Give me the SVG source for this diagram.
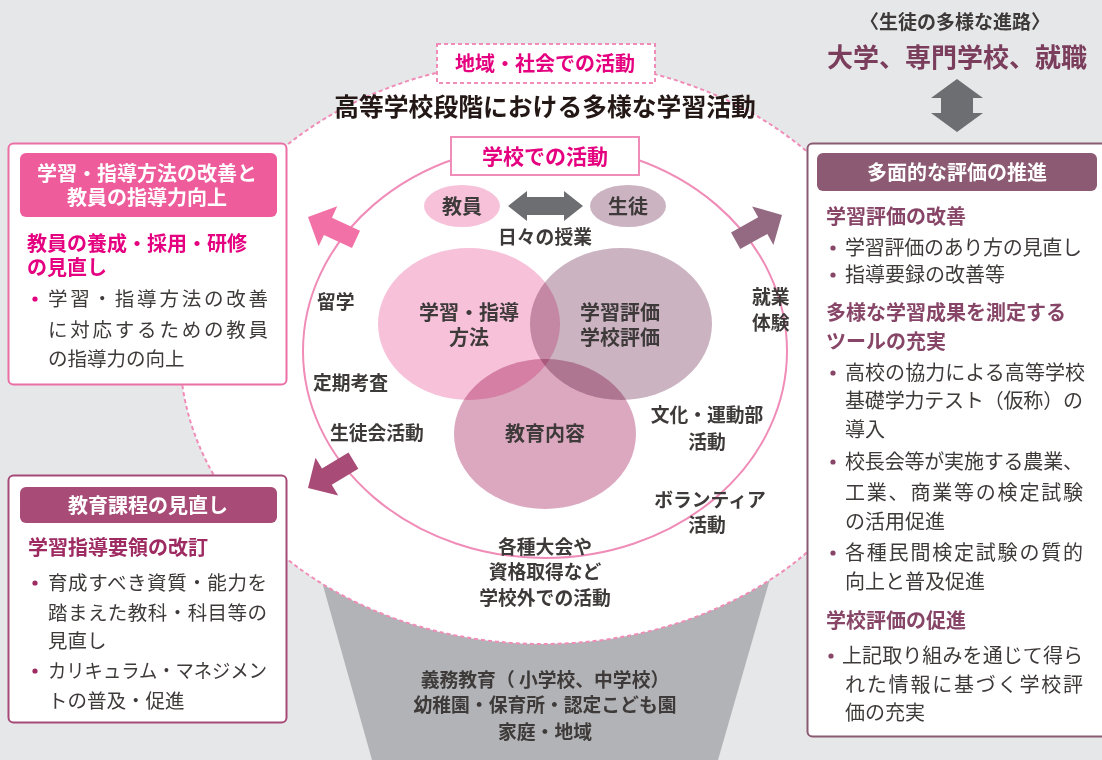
<svg xmlns="http://www.w3.org/2000/svg" width="1102" height="760" viewBox="0 0 1102 760">
<defs>
<style>
text{font-family:"Noto Sans CJK JP","Noto Sans",sans-serif;}
.b{font-weight:700;}
.r{font-weight:400;}
.dk{fill:#3e3a39;}
.wt{fill:#ffffff;font-weight:700;font-size:20px;}
.mid{text-anchor:middle;}
.lbl{font-weight:700;font-size:18.8px;fill:#3e3a39;}
.venn{font-weight:700;font-size:20px;fill:#3e3a39;text-anchor:middle;}
.body{font-weight:400;font-size:19.5px;fill:#3e3a39;}
.rbody{font-weight:400;font-size:20px;fill:#3e3a39;}
.pinkline{fill:none;stroke:#f08cb8;stroke-width:2;}
.vc{mix-blend-mode:multiply;}
</style>
<polygon id="blockArrow" points="0,0 -22,-22 -22,-9.5 -53,-9.5 -53,9.5 -22,9.5 -22,22"/>
</defs>
<rect x="0" y="0" width="1102" height="760" fill="#e6e7e8"/>
<polygon points="285,450 807,450 718,760 372,760" fill="#b2b3b6"/>
<g id="outer-area">
<ellipse cx="543" cy="352" rx="363" ry="292" fill="#ffffff" stroke="#f08cb8" stroke-width="2" stroke-dasharray="4 3"/>
<rect x="437" y="44" width="218" height="39" fill="#ffffff" stroke="#f08cb8" stroke-width="2" stroke-dasharray="4 3"/>
<text x="545" y="70.5" class="b mid" font-size="20" fill="#e4007f">地域・社会での活動</text>
<text x="545" y="116" class="b mid" font-size="24.8" fill="#231815">高等学校段階における多様な学習活動</text>
</g>
<g id="school-circle">
<ellipse cx="545" cy="351" rx="242" ry="207" class="pinkline"/>
</g>
<g id="connectors">
<use href="#blockArrow" transform="translate(308,217) rotate(205)" fill="#f272a8"/>
<use href="#blockArrow" transform="translate(782,215) rotate(-29)" fill="#936a81"/>
<use href="#blockArrow" transform="translate(308,488) rotate(149)" fill="#a84b77"/>
<polygon points="508,206 527,191 527,197 564,197 564,191 583,206 564,221 564,215 527,215 527,221" fill="#6d6e71"/>
<polygon points="957,79 983,98 973,98 973,113 983,113 957,132 931,113 941,113 941,98 931,98" fill="#6d6e71"/>
</g>
<g id="school-label">
<rect x="451" y="137" width="188" height="38" fill="#ffffff" stroke="#f08cb8" stroke-width="2"/>
<text x="545" y="164" class="b mid" font-size="21" fill="#e4007f">学校での活動</text>
</g>
<g id="teacher">
<ellipse cx="462" cy="206" rx="38" ry="21" fill="#f6c1d9"/>
<text x="462" y="213.5" class="venn">教員</text>
</g>
<g id="student">
<ellipse cx="628" cy="206" rx="38" ry="21" fill="#cbb3c1"/>
<text x="628" y="213.5" class="venn">生徒</text>
</g>
<text x="545" y="244" class="lbl mid">日々の授業</text>
<g id="venn" style="isolation:isolate">
<ellipse class="vc" cx="469" cy="324" rx="91" ry="76" fill="#f6c1d9"/>
<ellipse class="vc" cx="621" cy="324" rx="91" ry="76" fill="#cbb3c1"/>
<ellipse class="vc" cx="545" cy="434" rx="91" ry="75" fill="#dca8c0"/>
</g>
<g id="venn-method"><text x="469" y="319.5" class="venn">学習・指導</text><text x="469" y="344.5" class="venn">方法</text></g>
<g id="venn-eval"><text x="620" y="319.5" class="venn">学習評価</text><text x="620" y="344.5" class="venn">学校評価</text></g>
<g id="venn-content"><text x="545" y="440.5" class="venn">教育内容</text></g>
<g id="activities">
<text x="317" y="309" class="lbl">留学</text>
<text x="313" y="390" class="lbl">定期考査</text>
<text x="330" y="440" class="lbl">生徒会活動</text>
<text x="752" y="304" class="lbl">就業</text>
<text x="752" y="330" class="lbl">体験</text>
<text x="707" y="422" class="lbl mid">文化・運動部</text>
<text x="707" y="449" class="lbl mid">活動</text>
<text x="710" y="507" class="lbl mid">ボランティア</text>
<text x="707" y="532" class="lbl mid">活動</text>
<text x="545" y="554" class="lbl mid">各種大会や</text>
<text x="545" y="579" class="lbl mid">資格取得など</text>
<text x="545" y="605" class="lbl mid">学校外での活動</text>
</g>
<g id="foundation">
<text x="545" y="687" class="lbl mid">義務教育（ 小学校、中学校）</text>
<text x="545" y="712" class="lbl mid">幼稚園・保育所・認定こども園</text>
<text x="545" y="739" class="lbl mid">家庭・地域</text>
</g>
<g id="career">
<text x="955" y="29" class="b mid dk" font-size="19">〈生徒の多様な進路〉</text>
<text x="957" y="66.5" class="b mid" font-size="26" fill="#7a3d5c">大学、専門学校、就職</text>
</g>
<g id="box-teaching">
<rect x="8.5" y="143.5" width="278" height="241" rx="5" fill="#ffffff" stroke="#eb6ea5" stroke-width="2"/>
<rect x="20" y="153" width="257" height="64" rx="6" fill="#ee5c9c"/>
<text x="147" y="180.5" class="wt mid">学習・指導方法の改善と</text>
<text x="147" y="204.5" class="wt mid">教員の指導力向上</text>
<text x="27" y="250.5" class="b" font-size="20" fill="#e4007f">教員の養成・採用・研修</text>
<text x="27" y="274.5" class="b" font-size="20" fill="#e4007f">の見直し</text>
<circle cx="35" cy="299" r="2.6" fill="#e4007f"/>
<text x="48" y="305.5" class="body" textLength="220" lengthAdjust="spacing">学習・指導方法の改善</text>
<text x="48" y="336.5" class="body" textLength="220" lengthAdjust="spacing">に対応するための教員</text>
<text x="48" y="366" class="body">の指導力の向上</text>
</g>
<g id="box-curriculum">
<rect x="8.5" y="475.5" width="278" height="247" rx="5" fill="#ffffff" stroke="#a64a78" stroke-width="2"/>
<rect x="20" y="487" width="257" height="36" rx="6" fill="#a84b77"/>
<text x="148" y="512.5" class="wt mid">教育課程の見直し</text>
<text x="28" y="554.5" class="b" font-size="20" fill="#9e2a62">学習指導要領の改訂</text>
<circle cx="35" cy="583" r="2.6" fill="#9e2a62"/>
<text x="48" y="589.5" class="body" textLength="219" lengthAdjust="spacing">育成すべき資質・能力を</text>
<text x="48" y="619.5" class="body" textLength="219" lengthAdjust="spacing">踏まえた教科・科目等の</text>
<text x="48" y="647.5" class="body">見直し</text>
<circle cx="35" cy="671" r="2.6" fill="#9e2a62"/>
<text x="48" y="677.5" class="body" textLength="219" lengthAdjust="spacingAndGlyphs">カリキュラム・マネジメン</text>
<text x="48" y="707.5" class="body">トの普及・促進</text>
</g>
<g id="box-evaluation">
<rect x="807.5" y="143.5" width="310" height="593" rx="5" fill="#ffffff" stroke="#8a5a72" stroke-width="2"/>
<rect x="817" y="153" width="280" height="38" rx="6" fill="#8c5b73"/>
<text x="957" y="179.5" class="wt mid">多面的な評価の推進</text>
<text x="826" y="223.5" class="b" font-size="20" fill="#874667">学習評価の改善</text>
<circle cx="833" cy="248" r="2.6" fill="#874667"/>
<text x="845" y="254.5" class="rbody" textLength="237" lengthAdjust="spacing">学習評価のあり方の見直し</text>
<circle cx="833" cy="275" r="2.6" fill="#874667"/>
<text x="845" y="281.5" class="rbody">指導要録の改善等</text>
<text x="826" y="319.5" class="b" font-size="20" fill="#874667">多様な学習成果を測定する</text>
<text x="826" y="348.5" class="b" font-size="20" fill="#874667">ツールの充実</text>
<circle cx="833" cy="373" r="2.6" fill="#874667"/>
<text x="845" y="379.5" class="rbody" textLength="240" lengthAdjust="spacing">高校の協力による高等学校</text>
<text x="845" y="407.5" class="rbody" textLength="238" lengthAdjust="spacing">基礎学力テスト（仮称）の</text>
<text x="845" y="436.5" class="rbody">導入</text>
<circle cx="833" cy="462" r="2.6" fill="#874667"/>
<text x="845" y="468.5" class="rbody" textLength="238" lengthAdjust="spacing">校長会等が実施する農業、</text>
<text x="845" y="499.5" class="rbody" textLength="238" lengthAdjust="spacing">工業、商業等の検定試験</text>
<text x="845" y="528.5" class="rbody">の活用促進</text>
<circle cx="833" cy="553" r="2.6" fill="#874667"/>
<text x="845" y="559.5" class="rbody" textLength="238" lengthAdjust="spacing">各種民間検定試験の質的</text>
<text x="845" y="588.5" class="rbody">向上と普及促進</text>
<text x="826" y="627.5" class="b" font-size="20" fill="#874667">学校評価の促進</text>
<circle cx="831" cy="656" r="2.6" fill="#874667"/>
<text x="842" y="662.5" class="rbody" textLength="241" lengthAdjust="spacing">上記取り組みを通じて得ら</text>
<text x="845" y="691.5" class="rbody" textLength="238" lengthAdjust="spacing">れた情報に基づく学校評</text>
<text x="845" y="719.5" class="rbody">価の充実</text>
</g>
</svg>
